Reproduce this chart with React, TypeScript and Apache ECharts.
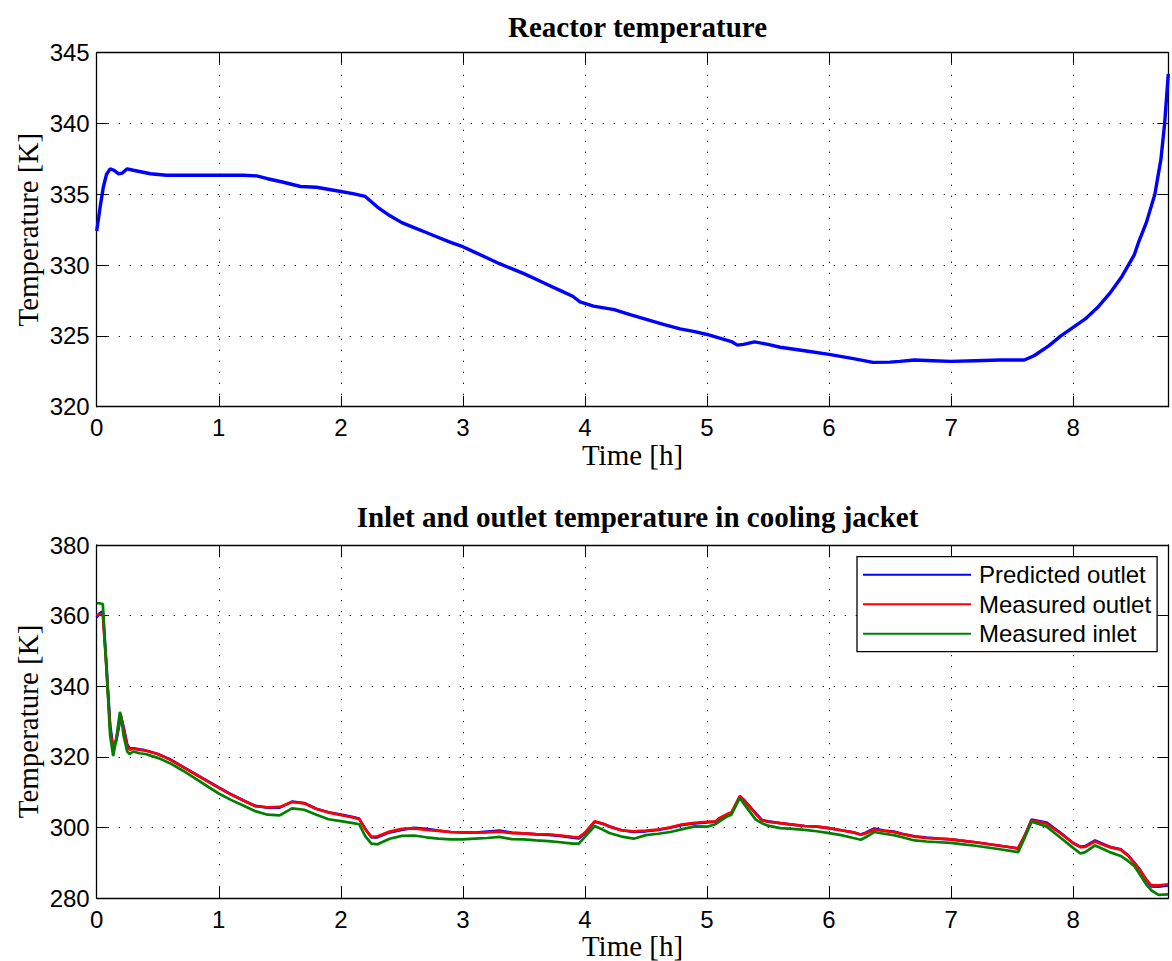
import React, { useEffect, useRef } from "react";
import * as echarts from "echarts";

// ---------- Reactor temperature (top plot) ----------
const reactorTime = [
  0, 0.03, 0.054, 0.08, 0.11, 0.14, 0.18, 0.21, 0.25, 0.3, 0.44, 0.57, 0.8, 1.0, 1.2, 1.31, 1.4, 1.53, 1.67,
  1.8, 2.0, 2.1, 2.2, 2.3, 2.4, 2.5, 2.6, 2.7, 2.8, 2.9, 3.0, 3.1, 3.2, 3.3, 3.4, 3.5, 3.6, 3.7, 3.8, 3.9,
  3.96, 4.07, 4.24, 4.37, 4.51, 4.65, 4.78, 4.9, 5.0, 5.16, 5.2, 5.25, 5.3, 5.39, 5.5, 5.6, 5.8, 6.0, 6.2,
  6.36, 6.5, 6.58, 6.7, 6.85, 7.0, 7.2, 7.4, 7.6, 7.68, 7.8, 7.9, 8.0, 8.1, 8.2, 8.3, 8.4, 8.5, 8.54, 8.6,
  8.67, 8.72, 8.75, 8.78,
];
const reactorTemp = [
  332.4, 334.2, 335.5, 336.4, 336.8, 336.7, 336.45, 336.5, 336.8, 336.7, 336.45, 336.35, 336.35, 336.35,
  336.35, 336.3, 336.1, 335.85, 335.55, 335.5, 335.2, 335.05, 334.85, 334.1, 333.5, 333.0, 332.65, 332.3,
  331.95, 331.6, 331.3, 330.9, 330.5, 330.1, 329.75, 329.4, 329.0, 328.6, 328.2, 327.8, 327.4, 327.1,
  326.86, 326.5, 326.15, 325.8, 325.5, 325.3, 325.1, 324.7, 324.6, 324.35, 324.4, 324.58, 324.4, 324.2,
  323.95, 323.7, 323.4, 323.13, 323.15, 323.2, 323.3, 323.25, 323.2, 323.25, 323.3, 323.3, 323.6, 324.3,
  325.0, 325.6, 326.2, 327.0, 328.0, 329.2, 330.7, 331.7, 333.0, 335.0, 337.5, 340.0, 343.5,
];

// ---------- Cooling jacket (bottom plot) ----------
const jacketTime = [
  0, 0.02, 0.05, 0.08, 0.11, 0.135, 0.16, 0.19, 0.2, 0.22, 0.25, 0.27, 0.3, 0.35, 0.4, 0.5, 0.6, 0.7, 0.8,
  0.9, 1.0, 1.1, 1.2, 1.3, 1.4, 1.5, 1.6, 1.7, 1.8, 1.9, 2.0, 2.1, 2.15, 2.2, 2.25, 2.3, 2.4, 2.5, 2.6, 2.7,
  2.8, 2.9, 3.0, 3.1, 3.2, 3.3, 3.4, 3.5, 3.6, 3.7, 3.8, 3.9, 3.95, 4.0, 4.08, 4.15, 4.2, 4.3, 4.4, 4.5,
  4.6, 4.7, 4.8, 4.9, 5.0, 5.07, 5.1, 5.16, 5.2, 5.27, 5.3, 5.4, 5.45, 5.5, 5.6, 5.7, 5.8, 5.9, 6.0, 6.1,
  6.2, 6.26, 6.3, 6.37, 6.45, 6.53, 6.6, 6.7, 6.8, 6.9, 7.0, 7.1, 7.2, 7.3, 7.4, 7.5, 7.55, 7.6, 7.66,
  7.78, 7.9, 8.0, 8.06, 8.1, 8.18, 8.25, 8.3, 8.39, 8.45, 8.5, 8.55, 8.6, 8.64, 8.7, 8.78,
];
const predictedOutlet = [
  359.5, 360.5, 361.2, 346, 329, 322.5, 324.5, 330, 331.2, 328.5, 323.5, 322.3, 322.4, 322.1, 321.8, 320.8,
  319.3, 317.3, 315.3, 313.3, 311.3, 309.4, 307.7, 306.1, 305.6, 305.6, 307.3, 306.9, 305.3, 304.3, 303.6,
  302.9, 302.5, 299.6, 297.2, 297.2, 298.6, 299.3, 299.9, 299.6, 299.1, 298.7, 298.6, 298.5, 298.8, 299.1,
  298.5, 298.3, 298.0, 297.9, 297.6, 297.1, 296.9, 298.3, 301.6, 301.0, 300.3, 299.2, 298.7, 298.9, 299.3,
  299.9, 300.7, 301.1, 301.4, 301.6, 302.4, 303.4, 304.0, 308.7, 307.9, 304.0, 302.1, 301.7, 301.2, 300.8,
  300.4, 300.2, 299.8, 299.2, 298.6, 298.0, 298.5, 299.7, 299.1, 298.8, 298.2, 297.5, 297.1, 296.8, 296.6,
  296.2, 295.8, 295.3, 294.8, 294.3, 294.0, 297.3, 302.2, 301.4, 298.4, 295.6, 294.5, 294.7, 296.3, 295.2,
  294.5, 293.8, 292.1, 290.1, 287.9, 285.1, 283.3, 283.2, 283.6,
];
const measuredOutlet = [
  360, 360.3, 360.5, 345, 328, 322, 325, 330.5, 331.5, 328, 323, 322, 322.3, 322, 321.8, 320.8, 319.2,
  317.2, 315.2, 313.2, 311.2, 309.3, 307.6, 306.0, 305.7, 305.8, 307.2, 306.8, 305.2, 304.2, 303.5, 302.8,
  302.4, 299.5, 297.3, 297.5, 298.8, 299.6, 299.7, 299.3, 299.0, 298.7, 298.6, 298.5, 298.6, 298.8, 298.4,
  298.3, 298.1, 298.0, 297.7, 297.3, 297.2, 298.5, 301.7, 301.0, 300.2, 299.2, 298.9, 299.1, 299.4, 300.0,
  300.9, 301.3, 301.6, 301.7, 302.6, 303.7, 304.2, 308.9, 307.8, 303.8, 302.0, 301.6, 301.2, 300.8, 300.4,
  300.2, 299.8, 299.2, 298.6, 297.9, 298.3, 299.4, 299.0, 298.7, 298.1, 297.4, 297.0, 296.8, 296.6, 296.2,
  295.8, 295.3, 294.8, 294.3, 294.1, 297.5, 302.0, 301.1, 298.2, 295.5, 294.4, 294.5, 296.0, 295.0, 294.4,
  293.7, 292.0, 290.0, 287.8, 285.2, 283.6, 283.6, 283.9,
];
const measuredInlet = [
  363.5, 363.5, 363.3, 345, 326, 320.2, 325, 332.7, 331.5, 326, 321.5, 320.8, 321.5, 321, 320.8, 319.7,
  318.2, 316.2, 314.0, 311.8, 309.6, 307.8, 306.2, 304.6, 303.6, 303.4, 305.4, 305.0, 303.6, 302.3, 301.8,
  301.2, 300.9, 297.5, 295.4, 295.2, 296.8, 297.6, 297.7, 297.2, 296.8, 296.6, 296.6, 296.8, 297.0, 297.3,
  296.7, 296.6, 296.3, 296.1, 295.8, 295.4, 295.4, 297.3, 300.4, 299.3, 298.4, 297.4, 296.8, 297.8, 298.2,
  298.7, 299.5, 300.3, 300.2, 300.9, 301.6, 303.0, 303.6, 308.4, 306.8, 302.2, 301.2, 300.5, 299.8, 299.6,
  299.3, 298.9, 298.4, 297.8, 297.0, 296.5, 297.2, 298.7, 298.2, 297.8, 297.2, 296.3, 296.0, 295.8, 295.6,
  295.2, 294.8, 294.3, 293.8, 293.3, 293.0, 296.8, 301.6, 300.3, 297.0, 294.2, 292.6, 293.0, 294.9, 293.8,
  293.0, 291.9, 290.5, 289.1, 286.5, 283.8, 282.2, 280.9, 281.0,
];

const xTicksMax = 8.78;
const topTitle = "Reactor temperature";
const bottomTitle = "Inlet and outlet temperature in cooling jacket";
const seriesNames = ["Predicted outlet", "Measured outlet", "Measured inlet"];

const zip = (xs: number[], ys: number[]) => xs.map((x, i) => [x, ys[i]]);

const SANS = "Liberation Sans, Arial, sans-serif";
const SERIF = "Liberation Serif, Times New Roman, serif";
const SERIF_SIZE = 29;

const gridLine = { show: true, lineStyle: { color: "#000", width: 1, type: [1.2, 9.8] as any } };
const axisLine = { show: true, onZero: false, lineStyle: { color: "#000", width: 1.3 } };
const tick = { show: true, inside: true, length: 11, lineStyle: { color: "#000", width: 1 } };

function xAxes(grid: number, nameGap: number) {
  return [
    {
      gridIndex: grid, type: "value", min: 0, max: xTicksMax, interval: 1, position: "bottom",
      axisLine, axisTick: tick, splitLine: gridLine,
      axisLabel: { show: true, fontSize: 24, fontFamily: SANS, color: "#000", margin: 9, showMaxLabel: false },
      name: "Time [h]", nameLocation: "middle", nameGap, nameMoveOverlap: false,
      nameTextStyle: { fontFamily: SERIF, fontSize: SERIF_SIZE, color: "#000" },
    },
    {
      gridIndex: grid, type: "value", min: 0, max: xTicksMax, interval: 1, position: "top",
      axisLine, axisTick: tick, splitLine: { show: false }, axisLabel: { show: false },
    },
  ];
}
function yAxes(grid: number, min: number, max: number, interval: number) {
  return [
    {
      gridIndex: grid, type: "value", min, max, interval, position: "left",
      axisLine, axisTick: tick, splitLine: gridLine,
      axisLabel: { show: true, fontSize: 24, fontFamily: SANS, color: "#000", margin: 7 },
      name: "Temperature [K]", nameLocation: "middle", nameGap: 54.5, nameRotate: 90, nameMoveOverlap: false,
      nameTextStyle: { fontFamily: SERIF, fontSize: SERIF_SIZE, color: "#000" },
    },
    {
      gridIndex: grid, type: "value", min, max, interval, position: "right",
      axisLine, axisTick: tick, splitLine: { show: false }, axisLabel: { show: false },
    },
  ];
}

export default function App() {
  const ref = useRef<HTMLDivElement>(null);
  useEffect(() => {
    if (!ref.current) return;
    const chart = echarts.init(ref.current, null, { renderer: "svg" });
    chart.setOption({
      animation: false,
      backgroundColor: "#fff",
      title: [
        {
          text: topTitle, left: 632.5, top: 7.5, textAlign: "center",
          textStyle: { fontFamily: SERIF, fontWeight: "bold", fontSize: SERIF_SIZE, color: "#000" },
        },
        {
          text: bottomTitle, left: 632.5, top: 497.5, textAlign: "center",
          textStyle: { fontFamily: SERIF, fontWeight: "bold", fontSize: SERIF_SIZE, color: "#000" },
        },
      ],
      grid: [
        { left: 96.7, top: 52.7, width: 1071.6, height: 354 },
        { left: 96.7, top: 545, width: 1071.6, height: 353.7 },
      ],
      xAxis: [...xAxes(0, 34), ...xAxes(1, 33)],
      yAxis: [...yAxes(0, 320, 345, 5), ...yAxes(1, 280, 380, 20)],
      legend: {
        show: true, orient: "vertical", left: 857, top: 556.7,
        data: seriesNames,
        itemStyle: { opacity: 0 },
        backgroundColor: "#fff", borderColor: "#000", borderWidth: 1.3, borderRadius: 0,
        padding: [6, 6, 6, 5], itemGap: 5.5, itemWidth: 108, itemHeight: 24,
        textStyle: { fontFamily: SANS, fontSize: 24, color: "#000", lineHeight: 24, padding: [0, 0, 0, 3] },
      },
      series: [
        {
          type: "line", name: "Reactor", xAxisIndex: 0, yAxisIndex: 0, data: zip(reactorTime, reactorTemp),
          symbol: "none", lineStyle: { color: "#0000ff", width: 3.4 }, itemStyle: { color: "#0000ff" },
        },
        {
          type: "line", name: seriesNames[0], xAxisIndex: 2, yAxisIndex: 2, data: zip(jacketTime, predictedOutlet),
          symbol: "none", lineStyle: { color: "#0000ff", width: 2.7 }, itemStyle: { color: "#0000ff" },
        },
        {
          type: "line", name: seriesNames[1], xAxisIndex: 2, yAxisIndex: 2, data: zip(jacketTime, measuredOutlet),
          symbol: "none", lineStyle: { color: "#ff0000", width: 2.7 }, itemStyle: { color: "#ff0000" },
        },
        {
          type: "line", name: seriesNames[2], xAxisIndex: 2, yAxisIndex: 2, data: zip(jacketTime, measuredInlet),
          symbol: "none", lineStyle: { color: "#008000", width: 2.7 }, itemStyle: { color: "#008000" },
        },
      ],
    });
    return () => chart.dispose();
  }, []);
  return (
    <div
      ref={ref}
      style={{ position: "absolute", left: 0, top: 0, width: 1172, height: 961, background: "#fff" }}
    />
  );
}
